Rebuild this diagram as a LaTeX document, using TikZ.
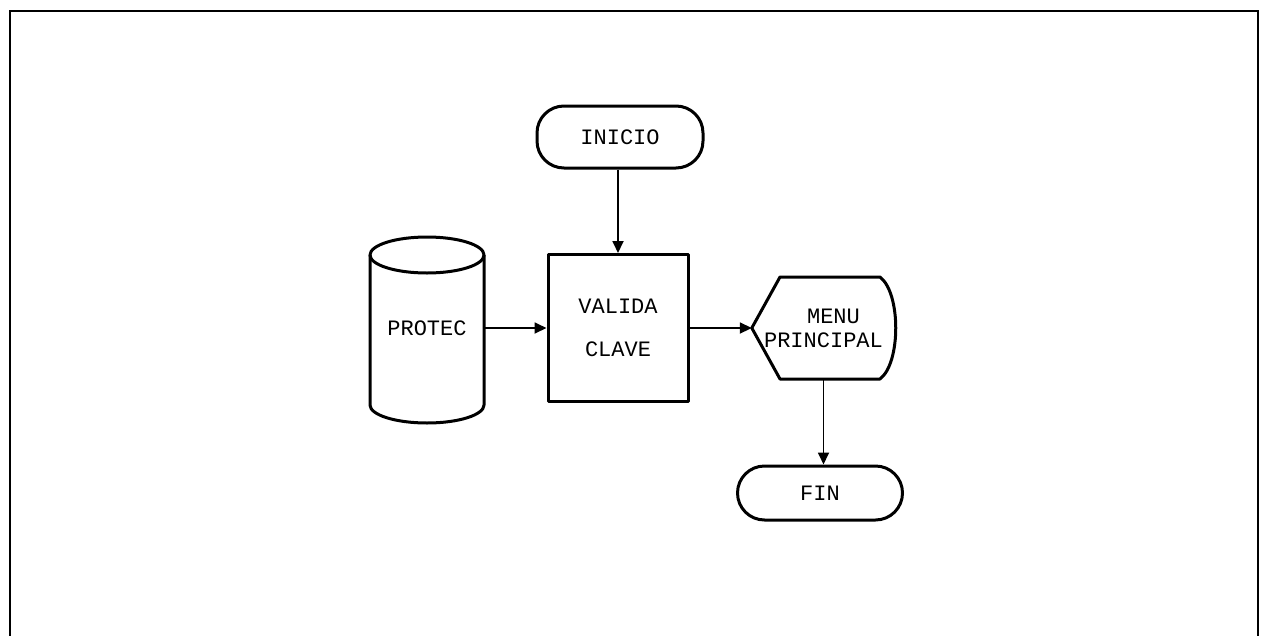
\documentclass[tikz,border=0pt]{standalone}
\usepackage{fontspec}
\setmonofont{Liberation Mono}
\usetikzlibrary{arrows.meta}
\tikzset{
  shapeline/.style={line width=3pt, line join=round},
  lbl/.style={font=\ttfamily\fontsize{22}{24}\selectfont, inner sep=0pt},
  termbox/.style={draw, shapeline, rounded corners=27pt, lbl},
  procbox/.style={draw, shapeline, lbl},
  conn/.style={line width=1.8pt, -{Triangle[length=12pt,width=11pt]}},
}
\begin{document}
\begin{tikzpicture}[x=1pt,y=-1pt]
\useasboundingbox (0,0) rectangle (1269,635);
% frame
\draw[line width=2pt] (10,640) -- (10,11) -- (1258,11) -- (1258,640);
% nodes
\node[termbox, minimum width=166pt, minimum height=62pt] (inicio) at (620,137) {INICIO};
\node[procbox, minimum width=140pt, minimum height=147pt, align=center,
      font=\ttfamily\fontsize{22}{43}\selectfont] (valida) at (618,328) {VALIDA\\ CLAVE};
\node[lbl, minimum width=114pt, minimum height=188pt] (protec) at (427,328) {PROTEC};
\node[lbl, minimum width=143pt, minimum height=102pt, align=left] (menu) at (823.5,328)
  {\hspace*{43pt}MENU\\PRINCIPAL};
\node[termbox, minimum width=165pt, minimum height=54pt] (fin) at (820,493) {FIN};
% cylinder outline
\draw[shapeline] (427,255) ellipse [x radius=57pt, y radius=18pt];
\draw[shapeline] (370,255) -- (370,405) arc[start angle=180, end angle=360, x radius=57pt, y radius=18pt] -- (484,255);
% display outline
\draw[shapeline] (menu.west) -- (780,277) -- (880,277) .. controls (901,293) and (901,363) .. (880,379) -- (780,379) -- cycle;
% connectors
\draw[conn] (valida.north |- inicio.south) -- (valida.north);
\draw[conn] (protec.east) -- (valida.west);
\draw[conn] (valida.east) -- (menu.west);
\draw[conn] (menu.south) -- (menu.south |- fin.north);
\end{tikzpicture}
\end{document}
